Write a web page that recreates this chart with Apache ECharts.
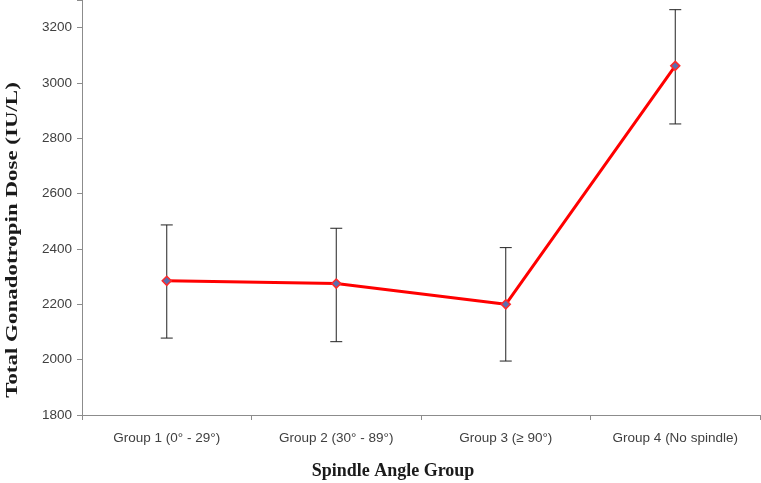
<!DOCTYPE html>
<html><head><meta charset="utf-8">
<script src="https://cdn.jsdelivr.net/npm/echarts@6/dist/echarts.min.js"></script>
<style>html,body{margin:0;padding:0;background:#fff}#c{width:761px;height:483px}</style>
</head><body><div id="c"></div>
<script>
const categories = ['Group 1 (0° - 29°)', 'Group 2 (30° - 89°)', 'Group 3 (≥ 90°)', 'Group 4 (No spindle)'];
const means = [2285, 2275, 2200, 3062];
const upper = [2487, 2475, 2405, 3265];
const lower = [2078, 2065, 1995, 2852];
const yTicks = {min: 1800, max: 3300, interval: 200, lastLabel: 3200};
const xTitle = 'Spindle Angle Group';
const yTitle = 'Total Gonadotropin Dose (IU/L)';

const chart = echarts.init(document.getElementById('c'));
chart.setOption({
  animation: false,
  grid: {left: 82, right: 1, top: 0, bottom: 68},
  graphic: [
    {type: 'text', x: 393, y: 471, style: {text: xTitle, font: 'bold 18px "Liberation Serif"', fill: '#1a1a1a', textAlign: 'center', textVerticalAlign: 'middle'}},
    {type: 'text', x: 13, y: 240, rotation: Math.PI / 2, scaleX: 1.35, style: {text: yTitle, font: 'bold 17px "Liberation Serif"', fill: '#1a1a1a', textAlign: 'center', textVerticalAlign: 'middle'}}
  ],
  xAxis: {
    type: 'category', data: categories, boundaryGap: true,
    axisLine: {lineStyle: {color: '#8c8c8c', width: 1}},
    axisTick: {show: true, alignWithLabel: false, length: 5, lineStyle: {color: '#8c8c8c'}},
    axisLabel: {fontFamily: 'Liberation Sans', fontSize: 13.5, color: '#404040', margin: 16}
  },
  yAxis: {
    type: 'value', min: yTicks.min, max: yTicks.max, interval: yTicks.interval,
    axisLine: {show: true, lineStyle: {color: '#8c8c8c', width: 1}},
    axisTick: {show: true, length: 5, lineStyle: {color: '#8c8c8c'}},
    axisLabel: {fontFamily: 'Liberation Sans', fontSize: 13.5, color: '#404040', margin: 10,
      formatter: v => (v > yTicks.lastLabel ? '' : String(v))},
    splitLine: {show: false}
  },
  series: [
    {
      type: 'custom',
      data: categories.map((c, i) => [i, lower[i], upper[i]]),
      z: 1,
      renderItem: function (params, api) {
        const x = api.value(0);
        const lo = api.coord([x, api.value(1)]);
        const hi = api.coord([x, api.value(2)]);
        const w = 6;
        const st = {stroke: '#222', lineWidth: 1};
        return {type: 'group', children: [
          {type: 'line', shape: {x1: lo[0], y1: lo[1], x2: hi[0], y2: hi[1]}, style: st},
          {type: 'line', shape: {x1: lo[0] - w, y1: lo[1], x2: lo[0] + w, y2: lo[1]}, style: st},
          {type: 'line', shape: {x1: hi[0] - w, y1: hi[1], x2: hi[0] + w, y2: hi[1]}, style: st}
        ]};
      }
    },
    {
      type: 'line', data: means, z: 3,
      lineStyle: {color: '#ff0000', width: 3},
      symbol: 'diamond', symbolSize: 9,
      itemStyle: {color: '#5b6fae', borderColor: '#ff2a2a', borderWidth: 1.5}
    }
  ]
});
</script></body></html>
